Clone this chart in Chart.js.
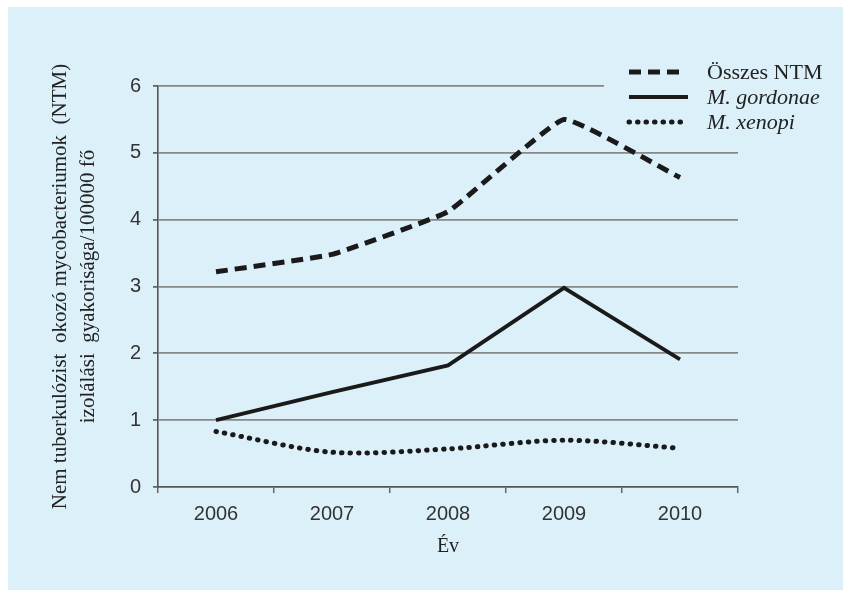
<!DOCTYPE html>
<html>
<head>
<meta charset="utf-8">
<script src="https://cdn.jsdelivr.net/npm/chart.js@4.4.0/dist/chart.umd.min.js"></script>
<style>
  body { margin: 0; background: #fff; }
  #panel { position: absolute; left: 8px; top: 7px; width: 835px; height: 583px; background: #dcf0fa; }
</style>
</head>
<body>
<div id="panel"><canvas id="chart" width="835" height="583"></canvas></div>
<script>
const evek = ["2006", "2007", "2008", "2009", "2010"];
const osszesNTM = [3.22, 3.48, 4.12, 5.5, 4.63];
const gordonae = [1.0, 1.42, 1.82, 2.98, 1.91];
const xenopi = [0.83, 0.52, 0.57, 0.70, 0.58];
const yTicks = [0, 1, 2, 3, 4, 5, 6];

const hatter = "#dcf0fa";
const vonal = "#1a1a1a";

// legend is drawn by hand: the first label is upright, the other two italic
const sajatLegend = {
    id: "sajatLegend",
    beforeDatasetsDraw(chart) {
        const ctx = chart.ctx;
        ctx.save();
        ctx.fillStyle = hatter;
        ctx.fillRect(596, 55, 140, 75);
        ctx.restore();
    },
    afterDraw(chart) {
        const ctx = chart.ctx;
        const sorok = [65, 90, 115];
        chart.data.datasets.forEach((ds, i) => {
            ctx.save();
            ctx.strokeStyle = ds.borderColor;
            ctx.lineWidth = ds.borderWidth;
            ctx.lineCap = ds.borderCapStyle || "butt";
            ctx.setLineDash(ds.borderDash || []);
            ctx.beginPath();
            ctx.moveTo(621, sorok[i]);
            ctx.lineTo(i === 1 ? 680 : 673, sorok[i]);
            ctx.stroke();
            ctx.setLineDash([]);
            ctx.fillStyle = "#222";
            ctx.font = (ds.dolt ? "italic " : "") + "22px 'Liberation Serif'";
            ctx.textBaseline = "middle";
            ctx.fillText(ds.label, 699, sorok[i] + 1);
            ctx.restore();
        });
    }
};

new Chart(document.getElementById("chart"), {
    type: "line",
    data: {
        labels: evek,
        datasets: [{
            label: "Összes NTM",
            data: osszesNTM,
            borderColor: vonal,
            borderWidth: 5,
            borderDash: [12, 7],
            tension: 0.1,
            pointRadius: 0,
            dolt: false
        }, {
            label: "M. gordonae",
            data: gordonae,
            borderColor: vonal,
            borderWidth: 3.8,
            tension: 0,
            pointRadius: 0,
            dolt: true
        }, {
            label: "M. xenopi",
            data: xenopi,
            borderColor: vonal,
            borderWidth: 5,
            borderDash: [0.5, 8],
            borderCapStyle: "round",
            tension: 0.3,
            pointRadius: 0,
            dolt: true
        }]
    },
    options: {
        responsive: false,
        animation: false,
        layout: { padding: { top: 79, right: 105, left: 0, bottom: 0 } },
        plugins: {
            legend: { display: false },
            tooltip: { enabled: false }
        },
        scales: {
            x: {
                offset: true,
                afterFit: (s) => { s.height = 103; },
                grid: {
                    offset: true,
                    drawOnChartArea: false,
                    drawTicks: true,
                    tickLength: 6,
                    color: "#666",
                    lineWidth: 1.5
                },
                border: { color: "#555", width: 1.6 },
                ticks: {
                    color: "#333",
                    padding: 9,
                    font: { family: "'Liberation Sans'", size: 20 }
                },
                title: {
                    display: true,
                    text: "Év",
                    color: "#222",
                    padding: { top: 0, bottom: 31 },
                    font: { family: "'Liberation Serif'", size: 20, lineHeight: 1.2 }
                }
            },
            y: {
                min: 0,
                max: 6,
                afterFit: (s) => { s.width = 150; },
                afterBuildTicks: (s) => { s.ticks = yTicks.map(v => ({ value: v })); },
                grid: {
                    color: "#888",
                    lineWidth: 1.8,
                    tickLength: 5,
                    tickColor: "#666"
                },
                border: { color: "#555", width: 1.6 },
                ticks: {
                    color: "#333",
                    padding: 12,
                    font: { family: "'Liberation Sans'", size: 20 }
                },
                title: {
                    display: true,
                    text: ["Nem tuberkulózist  okozó mycobacteriumok  (NTM)", "izolálási  gyakorisága/100000 fő"],
                    color: "#222",
                    padding: { top: 38, bottom: 0 },
                    font: { family: "'Liberation Serif'", size: 21, lineHeight: "28px" }
                }
            }
        }
    },
    plugins: [sajatLegend]
});
</script>
</body>
</html>
